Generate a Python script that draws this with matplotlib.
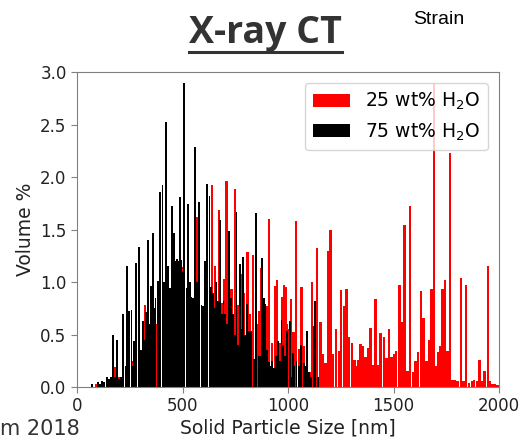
import matplotlib
matplotlib.use("Agg")
import matplotlib.pyplot as plt
from matplotlib.lines import Line2D

# 75 wt% H2O (black), bar centres in nm and volume %
black_x = [70, 100, 110, 120, 130, 140, 150, 160, 172, 180, 188, 199, 209, 220, 231, 237,
           247, 258, 265, 272, 280, 293, 302, 312, 320, 328, 336, 343, 350, 359, 366, 372,
           383, 394, 405, 412, 421, 430, 440, 450, 458, 465, 472, 480, 487, 494, 501, 509,
           519, 528, 535, 541, 550, 560, 568, 579, 590, 598, 607, 617, 628, 637, 645, 653,
           660, 668, 677, 686, 694, 701, 710, 721, 731, 740, 748, 756, 764, 772, 780, 788,
           796, 804, 813, 825, 837, 848, 861, 870, 877, 885, 893, 901, 909, 917, 925, 933,
           944, 954, 962, 969, 976, 984, 991, 997, 1008, 1016, 1022, 1030, 1040, 1050, 1063,
           1075, 1083, 1090, 1100, 1110, 1122, 1130, 1140]
black_y = [0.025, 0.05, 0.03, 0.06, 0.05, 0.10, 0.08, 0.10, 0.50, 0.10, 0.45, 0.08, 0.10, 0.70,
           0.20, 1.15, 0.72, 0.73, 0.20, 0.44, 1.18, 1.33, 0.35, 0.63, 0.45, 0.71, 1.40, 0.60,
           0.96, 1.47, 0.75, 0.85, 1.01, 1.86, 1.92, 1.00, 2.52, 1.15, 0.94, 1.72, 1.47, 1.20,
           1.22, 1.20, 1.81, 1.21, 1.10, 2.90, 0.94, 1.74, 1.00, 0.86, 0.85, 2.29, 1.00, 1.76,
           0.78, 0.77, 1.20, 1.93, 1.82, 0.95, 0.90, 0.75, 1.00, 0.82, 1.59, 0.70, 0.82, 0.70,
           0.60, 1.49, 0.85, 0.70, 0.50, 1.67, 0.40, 1.17, 0.55, 1.24, 0.50, 0.79, 0.53, 0.53,
           0.27, 1.66, 0.30, 0.30, 1.23, 0.85, 0.79, 0.35, 0.24, 0.20, 0.25, 0.18, 0.30, 0.44,
           0.25, 0.64, 0.40, 0.30, 0.25, 0.53, 0.63, 0.10, 0.32, 0.20, 0.25, 0.20, 0.40, 0.23,
           0.20, 0.53, 0.14, 0.10, 0.58, 0.82, 0.10]

# 25 wt% H2O (red)
red_x = [70, 90, 142, 182, 200, 240, 260, 304, 323, 345, 380, 420, 460, 498, 530, 570, 610,
         640, 653, 674, 690, 698, 709, 720, 732, 748, 758, 766, 778, 790, 808, 820, 835, 850,
         862, 875, 887, 899, 911, 925, 938, 949, 962, 972, 980, 988, 996, 1004, 1015, 1027,
         1038, 1051, 1064, 1075, 1091, 1103, 1114, 1127, 1138, 1154, 1165, 1178, 1189, 1201,
         1214, 1227, 1241, 1252, 1265, 1277, 1290, 1303, 1315, 1323, 1331, 1344, 1355, 1368,
         1379, 1391, 1404, 1415, 1426, 1439, 1455, 1467, 1478, 1491, 1502, 1513, 1529, 1542,
         1553, 1566, 1578, 1592, 1605, 1616, 1629, 1642, 1656, 1667, 1680, 1692, 1702, 1713,
         1721, 1732, 1743, 1755, 1768, 1779, 1790, 1803, 1819, 1832, 1844, 1858, 1871, 1882,
         1895, 1907, 1918, 1931, 1947, 1958, 1969, 1982, 1993, 2004]
red_y = [0.02, 0.03, 0.07, 0.19, 0.10, 0.30, 0.25, 0.30, 0.78, 0.50, 0.60, 0.70, 0.80, 1.14,
         0.90, 1.62, 1.00, 1.92, 1.15, 1.69, 0.80, 1.03, 1.96, 0.90, 0.93, 1.89, 0.70, 0.78,
         1.08, 0.90, 1.29, 0.70, 1.26, 0.60, 0.72, 1.13, 0.70, 0.77, 1.60, 0.42, 0.96, 1.02,
         0.42, 0.86, 0.97, 0.95, 0.60, 0.55, 0.84, 0.52, 1.58, 0.36, 0.95, 0.39, 0.45, 0.14,
         1.00, 0.66, 1.32, 0.62, 0.31, 0.23, 1.30, 1.50, 0.31, 0.55, 0.34, 0.92, 0.77, 0.93,
         0.48, 0.42, 0.26, 0.20, 0.26, 0.41, 0.39, 0.29, 0.37, 0.56, 0.21, 0.84, 0.21, 0.51,
         0.48, 0.28, 0.55, 0.29, 0.31, 0.34, 0.97, 0.62, 1.54, 0.15, 1.72, 0.14, 0.25, 0.33,
         0.91, 0.66, 0.25, 0.45, 0.93, 2.89, 0.20, 0.33, 0.39, 0.93, 1.02, 0.34, 2.23, 0.07,
         0.07, 0.06, 1.04, 0.06, 0.97, 0.04, 0.06, 0.07, 0.06, 0.26, 0.06, 0.15, 1.15, 0.06,
         0.025, 0.025, 0.02, 0.38]

txt = "#333333"
fig = plt.figure(figsize=(5.25, 4.42), dpi=100)
ax = fig.add_axes([0.1467, 0.1244, 0.8038, 0.7126])

ax.bar(red_x, red_y, width=11.5, color="red", linewidth=0, label="25 wt% H$_2$O")
ax.bar(black_x, black_y, width=9, color="black", linewidth=0, label="75 wt% H$_2$O")

ax.set_xlim(0, 2000)
ax.set_ylim(0, 3.0)
ax.set_xticks([0, 500, 1000, 1500, 2000])
ax.set_yticks([0, 0.5, 1.0, 1.5, 2.0, 2.5, 3.0])
ax.set_yticklabels(["0.0", "0.5", "1.0", "1.5", "2.0", "2.5", "3.0"])
ax.tick_params(labelsize=12, colors="#808080", labelcolor="#222222", length=4)
for s in ax.spines.values():
    s.set_color("#808080")

ax.set_xlabel("Solid Particle Size [nm]", fontsize=13.5, color="#222222", labelpad=2)
ax.set_ylabel("Volume %", fontsize=13.5, color="#222222")
ax.legend(loc="upper right", fontsize=13.5, framealpha=0.8, handlelength=2.0,
          borderaxespad=0.6)

t = fig.text(0.505, 0.903, "X-ray CT", ha="center", va="baseline", fontsize=27,
             fontweight="bold", family="Open Sans", color=txt)
fig.text(0.835, 0.957, "Strain", ha="center", va="center", fontsize=14,
         family="Liberation Sans", color="black")
fig.text(0.0, 0.03, "m 2018", ha="left", va="center", fontsize=15, color=txt)

# underline for the title
fig.canvas.draw()
bb = t.get_window_extent().transformed(fig.transFigure.inverted())
fig.add_artist(Line2D([bb.x0, bb.x1], [0.882, 0.882], color=txt, linewidth=2.2))

fig.savefig("out.png", dpi=100)
